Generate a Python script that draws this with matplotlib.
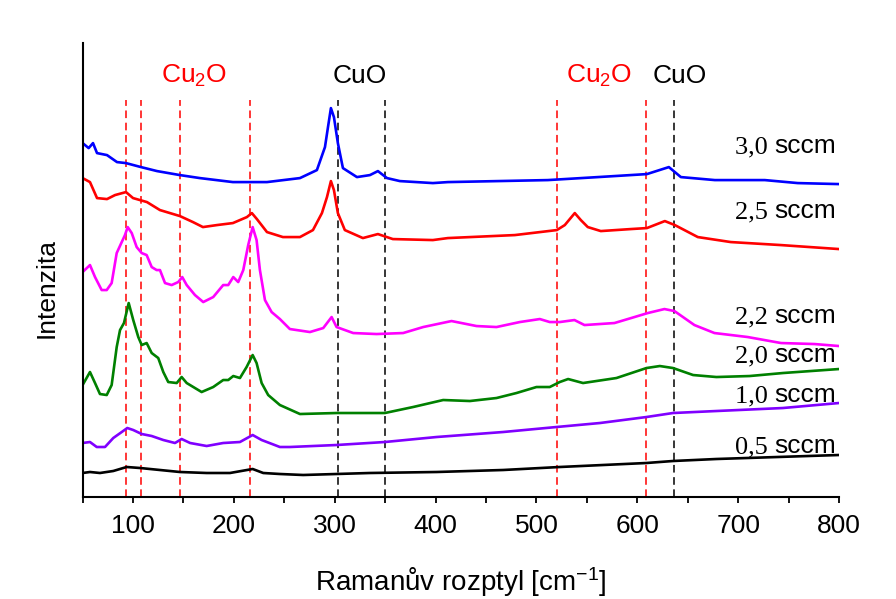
import matplotlib
matplotlib.use("Agg")
import matplotlib.pyplot as plt
from matplotlib.ticker import MultipleLocator

plt.rcParams['font.family'] = ['Liberation Sans', 'DejaVu Sans']
plt.rcParams['mathtext.fontset'] = 'custom'
plt.rcParams['mathtext.rm'] = 'Liberation Sans'
plt.rcParams['mathtext.default'] = 'regular'

# spectra: wavenumber [cm-1] and intensity (a.u., stacked)
x_30 = [50, 56, 60.3, 64.3, 74.2, 84.1, 93, 107.9, 123.8, 146.5, 166.3, 199, 232.8, 265.5, 282.3, 290.3,
        293.3, 296.2, 299.2, 303.1, 308.1, 322, 334.9, 342.8, 351.8, 364.6, 397.3, 412.2, 511.3,
        560.9, 609.5, 631.3, 643.2, 676.9, 726.4, 759.1, 800]
y_30 = [354, 349, 354, 344, 342, 335, 334, 330, 326, 322, 319, 315, 315, 319, 327, 350,
        370, 389, 380, 354, 329, 320, 322, 326, 319, 316, 314, 315, 317,
        320, 323, 330, 320, 317, 317, 314, 313]

x_25 = [50, 57.3, 64.3, 74.2, 82.1, 93, 100, 113.8, 126.7, 146.5, 159.4, 169.3, 183.2, 199, 212.9,
        217.8, 222.8, 232.8, 248.6, 265.5, 278.4, 287.3, 292.3, 296.2, 299.2, 303.1, 310, 327.9,
        342.8, 357.6, 397.3, 412.2, 478.6, 520.2, 528.1, 538, 544, 550.9, 563.8, 593.5, 609.5,
        627.3, 637.2, 660, 692.7, 742.3, 800]
y_25 = [319, 315, 299, 298, 302, 305, 299, 295, 287, 281, 275, 270, 272, 274, 280,
        284, 278, 265, 260, 260, 267, 284, 300, 316, 307, 284, 267, 259,
        263, 258, 257, 259, 262, 267, 272, 284, 277, 270, 266, 268, 269,
        276, 272, 260, 255, 252, 248]

x_22 = [50, 57.3, 62.3, 68.9, 73.9, 78.8, 83.8, 88.8, 92, 94.7, 98.7, 103.6, 108.6, 113.5, 118.5,
        123.4, 126.7, 131.7, 138.3, 144.8, 148.8, 153.2, 161.4, 169.6, 179.5, 189.4, 194.4, 199.4,
        204.3, 209.3, 214.2, 218.6, 222.5, 225.8, 230.8, 237.4, 245.6, 255.5, 275.4, 288.6, 296.9,
        301.8, 318.3, 341.5, 367.8, 387.7, 415.8, 440.6, 460.4, 483.5, 503.3, 513.2, 523.1, 537.7,
        547.6, 577.3, 597.2, 610.4, 626.9, 636.8, 656.6, 676.5, 709.5, 742.5, 775.6, 800]
y_22 = [225, 232, 220, 207, 207, 214, 244, 255, 262, 270, 264, 250, 244, 242, 230,
        227, 227, 214, 212, 215, 220, 212, 202, 195, 200, 212, 212, 220,
        215, 227, 252, 270, 257, 227, 197, 185, 178, 168, 165, 169, 180,
        170, 164, 163, 164, 170, 176, 171, 170, 175, 178, 175, 175, 177,
        172, 174, 180, 184, 188, 186, 172, 164, 160, 154, 153, 151]

x_20 = [50, 57.3, 62.3, 67.2, 73.9, 78.8, 83.8, 87.1, 91, 95.7, 100.2, 105.2, 108.6, 113.5, 118.5,
        125, 130, 134.9, 143.3, 148.2, 153.2, 161.4, 168, 179.5, 189.4, 194.4, 199.4, 206, 212.6,
        218.6, 222.5, 227.5, 234, 245.6, 265.5, 301.8, 349.7, 377.7, 407.5, 434, 460.4, 480.2,
        500, 513.2, 523.1, 531.4, 546.2, 579.3, 609.1, 622.3, 635.4, 655.3, 678.4, 711.4, 744.4, 800]
y_20 = [112, 125, 114, 103, 102, 112, 150, 167, 174, 194, 177, 160, 152, 154, 144,
        139, 125, 115, 114, 120, 114, 109, 105, 110, 117, 117, 121, 119, 130,
        142, 134, 114, 102, 92, 83, 84, 84, 90, 97, 96, 99, 104,
        110, 110, 115, 118, 114, 119, 129, 131, 129, 122, 120, 121, 124, 128]

x_10 = [50, 57.3, 64, 72.2, 80.4, 88.8, 94.3, 100.2, 108.6, 118.5, 130, 141.6, 148.2, 156.6, 173,
        189.4, 206, 218.6, 227.5, 245.6, 255.5, 301.8, 349.7, 401, 467, 519.9, 563, 609.1, 635.4,
        678.4, 744.4, 800]
y_10 = [54, 55, 50, 50, 59, 65, 69, 67, 63, 61, 57, 54, 58, 54, 51,
        54, 55, 62, 57, 50, 50, 52, 55, 60, 65, 70, 74, 80, 84,
        86, 89, 94]

x_05 = [50, 57.3, 67.2, 80.4, 93.7, 106.9, 126.7, 146.5, 173, 196.1, 218.6, 229.1, 245.6, 268.7,
        334.8, 401, 467, 523.1, 609.1, 635.4, 678.4, 800]
y_05 = [24, 25, 24, 26, 30, 29, 27, 25, 24, 24, 28, 24, 23, 22,
        24, 25, 27, 30, 34, 36, 38, 42]

series = [
    (x_05, y_05, "black", "0,5 ", 44),
    (x_10, y_10, "#8000FF", "1,0 ", 95),
    (x_20, y_20, "#008000", "2,0 ", 135),
    (x_22, y_22, "#FF00FF", "2,2 ", 174),
    (x_25, y_25, "#FF0000", "2,5 ", 279),
    (x_30, y_30, "#0000FF", "3,0 ", 344),
]

# reference peak positions
cu2o_peaks = [93, 108, 147, 216, 520, 609]
cuo_peaks = [303, 350, 636]

fig = plt.figure(figsize=(8.96, 5.99), dpi=100)
ax = fig.add_axes([0.0922, 0.1703, 0.8442, 0.7577])

ax.vlines(cu2o_peaks, 0, 397, colors="#FF0000", linestyles=(0, (5, 3)), linewidth=1.1)
ax.vlines(cuo_peaks, 0, 397, colors="black", linestyles=(0, (5, 3)), linewidth=1.1)

for xs, ys, col, lab, ylab in series:
    ax.plot(xs, ys, color=col, linewidth=1.9, solid_joinstyle="round")
    t = ax.text(797.5, ylab, "sccm", fontsize=19, ha="right", va="baseline")
    ax.annotate(lab, xy=(0, 0), xycoords=t, ha="right", va="bottom",
                fontsize=19, family="Liberation Serif")

ax.text(161, 414, "Cu$_2$O", color="#FF0000", fontsize=19, ha="center", va="baseline")
ax.text(562, 414, "Cu$_2$O", color="#FF0000", fontsize=19, ha="center", va="baseline")
ax.text(325, 414, "CuO", color="black", fontsize=19, ha="center", va="baseline")
ax.text(642, 414, "CuO", color="black", fontsize=19, ha="center", va="baseline")

ax.set_xlim(50, 800)
ax.set_ylim(0, 454)
ax.spines["top"].set_visible(False)
ax.spines["right"].set_visible(False)
ax.spines["left"].set_linewidth(1.5)
ax.spines["bottom"].set_linewidth(1.5)
ax.set_yticks([])
ax.xaxis.set_major_locator(MultipleLocator(100))
ax.xaxis.set_minor_locator(MultipleLocator(50))
ax.tick_params(axis="x", which="both", direction="out", length=4, width=1.3, labelsize=19, pad=8)

ax.set_xlabel("Ramanův rozptyl [cm$^{-1}$]", fontsize=20)
ax.xaxis.set_label_coords(0.5, -0.15)
ax.set_ylabel("Intenzita", fontsize=19)
ax.yaxis.set_label_coords(-0.032, 0.46)

fig.savefig("out.png", dpi=100)
